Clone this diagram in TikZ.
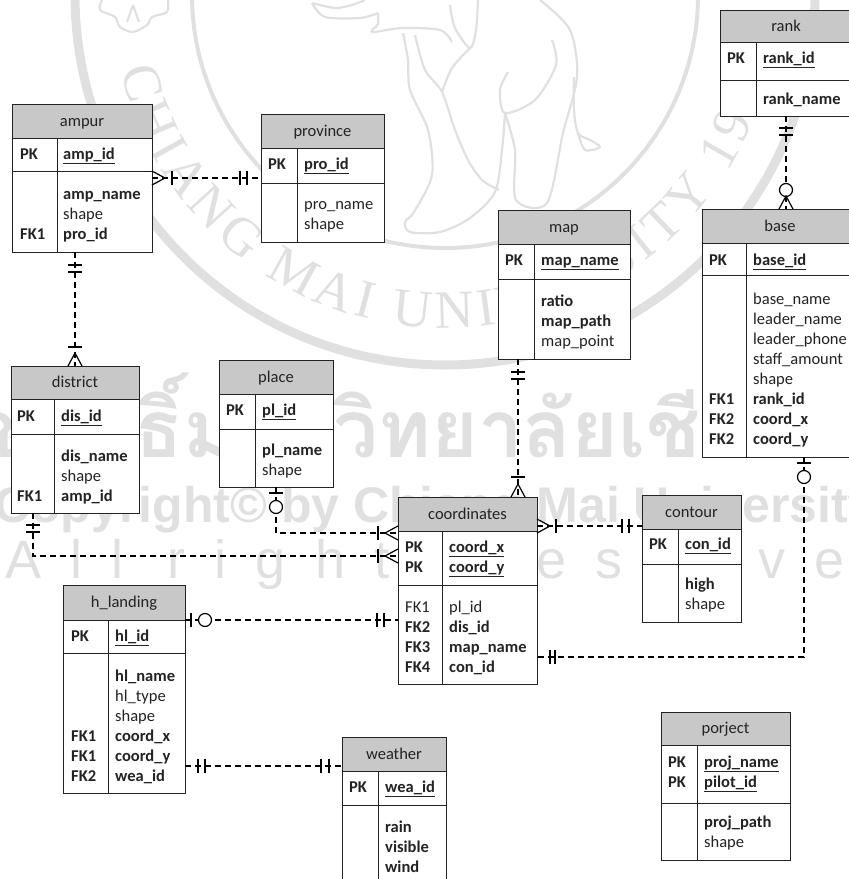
\documentclass[tikz,border=0pt]{standalone}
\usepackage{fontspec}
\setmainfont{Carlito}
\newfontfamily\thaifont[Script=Thai]{Loma}
\newfontfamily\wmsans{Liberation Sans}
\newfontfamily\wmserif{Liberation Serif}
\usepackage{xcolor}
\usetikzlibrary{calc, decorations.markings, decorations.text}
\definecolor{HeadGray}{RGB}{200,200,200}
\definecolor{MarkGray}{RGB}{224,224,224}
\definecolor{InkDark}{RGB}{35,35,35}

\newcommand{\pk}[1]{\underline{\textbf{#1}}}

\tikzset{
  entitybox/.style={draw=InkDark, fill=white, line width=1pt, inner sep=0pt, outer sep=0pt},
  entityline/.style={draw=InkDark, line width=1pt},
  titletext/.style={inner sep=0pt, yshift=-1pt, text=InkDark, text height=11pt, text depth=3pt, font=\fontsize{16.5}{20}\selectfont},
  fieldtext/.style={anchor=base west, inner sep=0pt, text=InkDark, font=\fontsize{16.5}{20}\selectfont},
  relation/.style={draw=black, line width=1.2pt, dash pattern=on 6pt off 4pt},
  barat/.style={postaction={decorate, decoration={markings,
    mark=at position #1 with {\draw[solid, line width=1.2pt] (0,-7pt) -- (0,7pt);}}}},
  ringat/.style={postaction={decorate, decoration={markings,
    mark=at position #1 with {\draw[solid, fill=white, line width=1.2pt] (0,0) circle (6.5pt);}}}},
  footstart/.style={postaction={decorate, decoration={markings,
    mark=at position 13pt with {\draw[solid, line width=1.2pt] (-13pt,-7pt) -- (0,0) -- (-13pt,7pt);}}}},
  footend/.style={postaction={decorate, decoration={markings,
    mark=at position -13pt with {\draw[solid, line width=1.2pt] (13pt,-7pt) -- (0,0) -- (13pt,7pt);}}}},
  sealline/.style={draw=MarkGray, line width=2.2pt, line join=round},
  sealtext/.style={inner sep=0pt, text=MarkGray}
}

% name, title, left, top, right, bottom, column, head bottom, key bottom
\newcommand{\entity}[9]{
  \node[entitybox, minimum width={(#5-#3)*1pt}, minimum height={(#6-#4)*1pt}] (#1) at ({(#3+#5)/2},{(#4+#6)/2}) {};
  \fill[HeadGray] (#3,#4) rectangle (#5,#8);
  \draw[entityline] (#3,#4) rectangle (#5,#6) (#3,#8) -- (#5,#8) (#3,#9) -- (#5,#9) (#7,#8) -- (#7,#6);
  \node[titletext] (#1title) at ({(#3+#5)/2},{(#4+#8)/2}) {#2};
}
% name, x, y of first row, rows
\newcommand{\fieldrows}[4]{
  \foreach \rowtext [count=\rowno from 0] in {#4} {
    \node[fieldtext] (#1\rowno) at (#2,{#3+4.5+20*\rowno}) {\rowtext};
  }
}

\begin{document}
\begin{tikzpicture}[x=1pt, y=-1pt]
\useasboundingbox (0,0) rectangle (849,879);
\clip (0,0) rectangle (849,879);

\draw[MarkGray, line width=9pt] (445,-5) circle (370);
\draw[MarkGray, line width=4pt] (445,-5) circle (253);
\path[decorate, decoration={text along path, text align={fit to path},
    text={|\fontsize{54}{54}\wmserif\selectfont\color{MarkGray}|CHIANG MAI UNIVERSITY 19}}]
  (445,-5) ++(167:333) arc[start angle=167, end angle=22, radius=333];
\draw[sealline] plot[smooth] coordinates {(312,3) (335,8) (352,5) (365,0)};
\draw[sealline] plot[smooth] coordinates {(312,3) (325,17) (360,18) (378,13)};
\draw[sealline] plot[smooth] coordinates {(378,13) (378,24) (372,32) (402,28) (440,30) (452,42)};
\draw[sealline] plot[smooth] coordinates {(450,5) (455,28) (470,48) (476,30) (478,0)};
\draw[sealline] plot[smooth] coordinates {(403,33) (408,60) (410,90) (428,130) (432,175) (414,212) (405,222) (410,232) (440,232) (470,218) (495,192) (502,150) (505,113)};
\draw[sealline] plot[smooth] coordinates {(415,35) (425,70) (442,92) (455,130) (468,160) (482,180) (499,190)};
\draw[sealline] plot[smooth] coordinates {(442,92) (452,68) (470,48)};
\draw[sealline] plot[smooth] coordinates {(505,113) (515,150) (516,200) (547,203) (563,133) (577,77) (570,30) (540,0)};
\draw[sealline] plot[smooth] coordinates {(552,40) (556,65) (535,100) (505,113) (500,90) (508,72)};
\draw[sealline] plot[smooth] coordinates {(574,77) (574,110) (578,133) (590,140) (600,147) (585,150) (578,133)};
\draw[sealline] plot[smooth] coordinates {(102,0) (100,10) (115,17) (120,27) (133,32) (147,25) (152,17) (167,12) (168,0)};
\draw[sealline] (133,5) -- (127,22) (133,5) -- (139,22);

\node[sealtext, font=\thaifont\bfseries\fontsize{80}{80}\selectfont] (sealthai) at (430,415) {ลิขสิทธิ์มหาวิทยาลัยเชียงใหม่};
\node[sealtext, font=\wmsans\bfseries\fontsize{50}{50}\selectfont] (sealcopy) at (435,510) {Copyright© by Chiang Mai University};
\node[sealtext, anchor=west, font=\wmsans\fontsize{54}{54}\selectfont\addfontfeature{LetterSpace=54}] (sealrights) at (5,565) {All rights reserved};

\entity{ampur}{ampur}{12}{104}{152}{252}{57}{138}{171}
\fieldrows{ampurkeys}{20}{155}{\textbf{PK}}
\fieldrows{ampurpk}{63}{155}{\pk{amp\_id}}
\fieldrows{ampurfk}{20}{235}{\textbf{FK1}}
\fieldrows{ampurrows}{63}{195}{\textbf{amp\_name},shape,\textbf{pro\_id}}

\entity{province}{province}{261}{114}{384}{242}{297}{148}{183}
\fieldrows{provincekeys}{268}{165}{\textbf{PK}}
\fieldrows{provincepk}{304}{165}{\pk{pro\_id}}
\fieldrows{provincerows}{304}{205}{pro\_name,shape}

\entity{district}{district}{11}{366}{139}{513}{54}{399}{434}
\fieldrows{districtkeys}{17}{417}{\textbf{PK}}
\fieldrows{districtpk}{61}{417}{\pk{dis\_id}}
\fieldrows{districtfk}{17}{497}{\textbf{FK1}}
\fieldrows{districtrows}{61}{457}{\textbf{dis\_name},shape,\textbf{amp\_id}}

\entity{place}{place}{219}{360}{333}{487}{255}{394}{429}
\fieldrows{placekeys}{226}{411}{\textbf{PK}}
\fieldrows{placepk}{262}{411}{\pk{pl\_id}}
\fieldrows{placerows}{262}{451}{\textbf{pl\_name},shape}

\entity{map}{map}{498}{210}{630}{359}{534}{244}{279}
\fieldrows{mapkeys}{505}{261}{\textbf{PK}}
\fieldrows{mappk}{541}{261}{\pk{map\_name}}
\fieldrows{maprows}{541}{302}{\textbf{ratio},\textbf{map\_path},map\_point}

\entity{rank}{rank}{720}{10}{852}{116}{756}{42}{80}
\fieldrows{rankkeys}{727}{59}{\textbf{PK}}
\fieldrows{rankpk}{763}{59}{\pk{rank\_id}}
\fieldrows{rankrows}{763}{100}{\textbf{rank\_name}}

\entity{base}{base}{702}{209}{858}{457}{746}{243}{275}
\fieldrows{basekeys}{709}{261}{\textbf{PK}}
\fieldrows{basepk}{753}{261}{\pk{base\_id}}
\fieldrows{basefk}{709}{400}{\textbf{FK1},\textbf{FK2},\textbf{FK2}}
\fieldrows{baserows}{753}{300}{base\_name,leader\_name,leader\_phone,staff\_amount,shape,\textbf{rank\_id},\textbf{coord\_x},\textbf{coord\_y}}

\entity{coordinates}{coordinates}{398}{497}{537}{684}{442}{531}{585}
\fieldrows{coordinateskeys}{405}{548}{\textbf{PK},\textbf{PK}}
\fieldrows{coordinatespk}{449}{548}{\pk{coord\_x},\pk{coord\_y}}
\fieldrows{coordinatesfk}{405}{608}{FK1,\textbf{FK2},\textbf{FK3},\textbf{FK4}}
\fieldrows{coordinatesrows}{449}{608}{pl\_id,\textbf{dis\_id},\textbf{map\_name},\textbf{con\_id}}

\entity{contour}{contour}{642}{495}{741}{622}{678}{529}{564}
\fieldrows{contourkeys}{649}{545}{\textbf{PK}}
\fieldrows{contourpk}{685}{545}{\pk{con\_id}}
\fieldrows{contourrows}{685}{585}{\textbf{high},shape}

\entity{hlanding}{h\_landing}{63}{585}{185}{793}{108}{620}{653}
\fieldrows{hlandingkeys}{71}{637}{\textbf{PK}}
\fieldrows{hlandingpk}{115}{637}{\pk{hl\_id}}
\fieldrows{hlandingfk}{71}{737}{\textbf{FK1},\textbf{FK1},\textbf{FK2}}
\fieldrows{hlandingrows}{115}{677}{\textbf{hl\_name},hl\_type,shape,\textbf{coord\_x},\textbf{coord\_y},\textbf{wea\_id}}

\entity{weather}{weather}{342}{737}{446}{885}{378}{771}{805}
\fieldrows{weatherkeys}{349}{788}{\textbf{PK}}
\fieldrows{weatherpk}{385}{788}{\pk{wea\_id}}
\fieldrows{weatherrows}{385}{828}{\textbf{rain},\textbf{visible},\textbf{wind}}

\entity{porject}{porject}{661}{712}{790}{860}{697}{745}{803}
\fieldrows{porjectkeys}{668}{763}{\textbf{PK},\textbf{PK}}
\fieldrows{porjectpk}{704}{763}{\pk{proj\_name},\pk{pilot\_id}}
\fieldrows{porjectrows}{704}{823}{\textbf{proj\_path},shape}

\draw[relation, footstart, barat=20pt, barat=-21pt, barat=-14pt] (province.west -| ampur.east) -- (province.west);
\draw[relation, barat=13pt, barat=20pt, barat=-19pt, footend] (district.north |- ampur.south) -- (district.north);
\draw[relation, barat=12pt, barat=19pt, ringat=-19pt, footend] (rank.south) -- (rank.south |- base.north);
\draw[relation, barat=13pt, barat=20pt, barat=-20pt, footend] ($(map.south west)+(20,0)$) -- ($(coordinates.north west)+(120,0)$);
\draw[relation, footstart, barat=19pt, barat=-20pt, barat=-13pt] ($(coordinates.north east)+(0,29)$) -- ($(contour.north west)+(0,31)$);
\draw[relation, barat=6pt, ringat=20pt, barat=-18pt, barat=-13pt] ($(base.south west)+(102,0)$) |- ($(coordinates.south east)+(0,-27)$);
\draw[relation, barat=6pt, ringat=20pt, barat=-20pt, footend] (place.south) |- ($(coordinates.north west)+(0,36)$);
\draw[relation, barat=12pt, barat=19pt, barat=-20pt, footend] ($(district.south west)+(22,0)$) |- ($(coordinates.north west)+(0,59)$);
\draw[relation, barat=6pt, ringat=20pt, barat=-21pt, barat=-14pt] ($(hlanding.north east)+(0,35)$) -- ($(coordinates.north west)+(0,123)$);
\draw[relation, barat=13pt, barat=20pt, barat=-21pt, barat=-13pt] ($(hlanding.north east)+(0,181)$) -- ($(weather.north west)+(0,29)$);
\end{tikzpicture}
\end{document}
